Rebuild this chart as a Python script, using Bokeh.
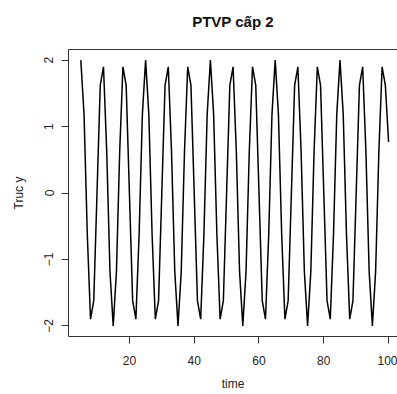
from bokeh.plotting import figure
from bokeh.models import Range1d, FixedTicker, LinearAxis, Title
from bokeh.embed import file_html
from bokeh.resources import INLINE

time = list(range(5, 101))
cycle = [2.00, 1.18, -0.62, -1.90, -1.62, 0.00, 1.62, 1.90, 0.62, -1.18,
         -2.00, -1.18, 0.62, 1.90, 1.62, 0.00, -1.62, -1.90, -0.62, 1.18]
y_values = (cycle + cycle + cycle + cycle +
            [2.00, 1.18, -0.62, -1.90, -1.62, 0.00, 1.62, 1.90, 0.62, -1.18,
             -2.00, -1.18, 0.62, 1.90, 1.62, 0.77])

x_ticks = [20, 40, 60, 80, 100]
y_ticks = [-2, -1, 0, 1, 2]
title_text = "PTVP cấp 2"
x_label = "time"
y_label = "Truc y"

FONT = "Liberation Sans"
AXC = "#333333"
y_lo, y_hi = -2.16, 2.16

p = figure(width=397, height=394, output_backend="svg", toolbar_location=None,
           x_range=Range1d(1.2, 102.75), y_range=Range1d(y_lo, y_hi),
           min_border_left=68, min_border_right=0, min_border_top=49,
           min_border_bottom=58)

xb = p.below[0]
yl = p.left[0]

p.title.text = title_text
p.title.align = "center"
p.title.text_font = FONT
p.title.text_font_size = "15px"
p.title.text_font_style = "bold"
p.title.text_color = "#111111"
p.title.standoff = 10

p.line(time, y_values, line_color="black", line_width=1.5)

p.xgrid.visible = False
p.ygrid.visible = False
p.outline_line_color = None
p.background_fill_color = "white"
p.border_fill_color = "white"

for ax in (xb, yl):
    ax.axis_line_color = AXC
    ax.major_tick_line_color = AXC
    ax.major_tick_out = 7
    ax.major_tick_in = 0
    ax.minor_tick_line_color = None
    ax.major_label_text_font = FONT
    ax.major_label_text_font_size = "12px"
    ax.major_label_text_color = "#222222"
    ax.axis_label_text_font = FONT
    ax.axis_label_text_font_size = "12px"
    ax.axis_label_text_font_style = "normal"
    ax.axis_label_text_color = "#222222"

xb.ticker = FixedTicker(ticks=x_ticks)
yl.ticker = FixedTicker(ticks=y_ticks)
xb.axis_label = x_label
yl.axis_label = y_label
xb.major_label_standoff = 12
xb.axis_label_standoff = 9
yl.major_label_orientation = "vertical"
yl.major_label_standoff = 8
yl.axis_label_standoff = 16

# top side of the box
top_axis = LinearAxis(ticker=FixedTicker(ticks=[]), axis_line_color=AXC,
                      major_tick_line_color=None, minor_tick_line_color=None,
                      major_tick_out=0, major_tick_in=0,
                      major_label_standoff=0)
p.add_layout(top_axis, "above")

# blank spacer between the title and the box
spacer = Title(text=" ", text_font_size="10px", standoff=2)
p.add_layout(spacer, "above")

open("out.html", "w").write(file_html(p, INLINE))
